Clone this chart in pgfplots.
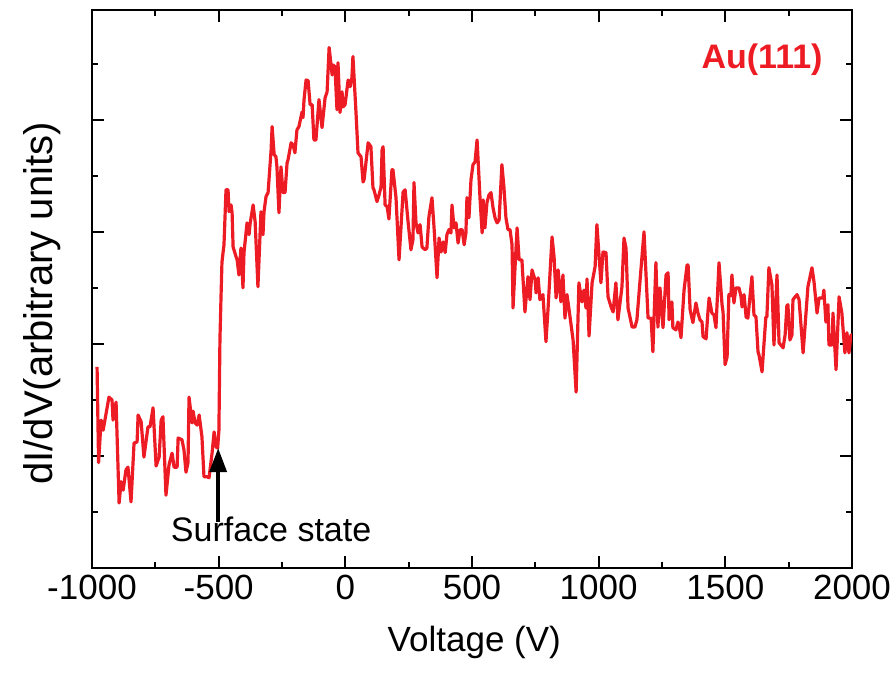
\documentclass[border=0pt]{standalone}
\usepackage{fontspec}
\setmainfont{Liberation Sans}
\usepackage{pgfplots}
\pgfplotsset{compat=1.18}
\usetikzlibrary{arrows.meta}
\definecolor{curvered}{HTML}{ED1C24}

\begin{document}
\begin{tikzpicture}
\path[use as bounding box] (-46pt,-53pt) rectangle (402pt,284pt);
\begin{axis}[
  scale only axis,
  width=380pt,
  height=279pt,
  xmin=-1000, xmax=2000,
  ymin=0, ymax=9.96,
  xtick={-1000,-500,0,500,1000,1500,2000},
  minor x tick num=1,
  ytick={2,4,6,8},
  minor ytick={1,3,5,7,9},
  yticklabels={},
  tick align=inside,
  major tick length=6pt,
  minor tick length=3pt,
  axis line style={line width=1pt},
  every tick/.style={line width=0.9pt, black},
  tick label style={font=\fontsize{17.5}{20}\selectfont},
  /pgf/number format/assume math mode=true,
  /pgf/number format/set thousands separator={},
  xlabel={Voltage (V)},
  ylabel={dI/dV(arbitrary units)},
  every axis x label/.style={at={(axis description cs:0.503,-0.134)}, anchor=center, font=\fontsize{17.5}{20}\selectfont},
  every axis y label/.style={at={(axis description cs:-0.066,0.474)}, anchor=center, rotate=90, font=\fontsize{20}{23}\selectfont},
]
  \addplot[color=curvered, line width=1.6pt, line join=round, no marks] coordinates {
    (-980,3.59) (-974,1.88) (-964,2.64) (-956,2.46) (-933,3.05) (-921,3.00) (-917,2.64) (-905,2.96)
    (-893,1.16) (-885,1.54) (-877,1.39) (-866,1.75) (-858,1.80) (-846,1.18) (-834,2.23) (-822,2.25)
    (-818,2.73) (-806,2.61) (-795,1.98) (-779,2.52) (-771,2.52) (-759,2.86) (-747,1.82) (-735,1.98)
    (-727,2.64) (-720,2.70) (-708,1.30) (-696,1.84) (-684,2.05) (-676,1.80) (-664,1.80) (-660,2.32)
    (-645,2.29) (-637,2.11) (-629,1.71) (-621,1.88) (-617,3.05) (-605,2.59) (-601,2.80) (-593,2.59)
    (-585,2.55) (-577,2.73) (-566,2.34) (-558,1.63) (-546,1.63) (-538,1.61) (-526,2.05) (-518,2.43)
    (-510,2.16) (-504,2.14) (-499,2.46) (-495,4.07) (-491,4.79) (-487,5.46) (-479,5.77) (-471,6.75)
    (-463,6.75) (-459,6.36) (-451,6.48) (-447,6.34) (-443,5.73) (-431,5.55) (-427,5.50) (-420,5.23)
    (-412,5.71) (-404,5.00) (-400,5.63) (-388,6.16) (-380,5.95) (-376,6.14) (-364,6.48) (-356,6.18)
    (-345,5.02) (-333,6.36) (-325,5.95) (-321,6.36) (-313,6.63) (-305,6.70) (-293,7.46) (-289,7.88)
    (-281,7.38) (-274,7.34) (-270,7.16) (-262,6.34) (-254,7.16) (-246,6.70) (-238,6.70) (-230,7.23)
    (-226,7.29) (-214,7.59) (-206,7.55) (-199,7.41) (-191,7.82) (-183,7.88) (-171,8.14) (-167,8.04)
    (-163,8.36) (-155,8.71) (-147,8.70) (-139,8.27) (-131,8.27) (-124,7.64) (-116,7.64) (-104,8.36)
    (-92,7.86) (-80,8.39) (-72,8.50) (-64,9.29) (-52,8.80) (-49,8.98) (-41,8.95) (-33,8.18)
    (-29,9.02) (-21,8.13) (-13,8.50) (-9,8.23) (-1,8.27) (11,8.71) (19,8.59) (26,8.75)
    (30,9.13) (42,8.14) (50,7.41) (62,7.34) (70,6.89) (74,6.93) (90,7.59) (101,7.52)
    (109,6.79) (113,6.75) (125,6.54) (133,6.66) (141,6.80) (145,7.46) (149,7.52) (157,6.48)
    (165,6.45) (172,6.23) (184,7.11) (188,7.11) (200,6.61) (212,5.50) (228,6.71) (236,6.75)
    (247,6.21) (259,5.68) (267,5.86) (271,6.88) (279,6.16) (287,5.98) (295,6.13) (303,5.73)
    (315,5.68) (322,5.71) (330,6.27) (342,6.61) (350,6.09) (362,5.18) (370,5.89) (378,5.64)
    (386,5.82) (394,5.63) (401,5.95) (409,6.04) (417,5.98) (421,6.48) (429,6.07) (437,6.16)
    (445,5.80) (453,6.04) (461,6.04) (469,5.77) (476,5.98) (480,6.61) (488,6.25) (496,6.93)
    (504,7.20) (512,7.25) (520,7.64) (524,7.29) (532,6.57) (540,5.98) (544,6.57) (551,6.07)
    (559,6.52) (567,6.66) (575,6.70) (583,6.43) (591,6.25) (599,6.16) (607,6.21) (618,7.20)
    (626,6.80) (634,6.25) (642,6.04) (650,6.04) (658,5.77) (662,4.64) (670,5.38) (678,6.07)
    (686,5.50) (697,5.50) (709,4.57) (721,5.20) (729,4.79) (737,5.32) (749,5.14) (753,4.91)
    (761,5.18) (768,4.79) (780,4.88) (792,4.04) (800,4.61) (816,5.91) (824,5.55) (832,4.82)
    (840,5.32) (851,4.75) (859,5.23) (867,4.46) (875,4.88) (887,4.48) (899,4.07) (911,3.14)
    (922,5.09) (934,4.75) (942,4.96) (950,4.64) (954,5.16) (962,4.14) (974,5.09) (986,5.38)
    (993,6.13) (1009,5.09) (1017,5.64) (1029,5.63) (1037,4.84) (1049,4.66) (1057,4.57) (1068,5.09)
    (1076,4.43) (1092,5.02) (1100,5.89) (1108,5.71) (1116,4.64) (1132,4.30) (1143,4.30) (1151,4.43)
    (1163,5.11) (1179,6.00) (1195,4.46) (1207,4.46) (1214,3.86) (1226,5.45) (1234,4.30) (1242,5.00)
    (1254,4.29) (1266,5.23) (1274,5.27) (1278,4.43) (1289,4.75) (1293,4.29) (1305,4.25) (1313,4.39)
    (1317,4.34) (1325,4.11) (1337,4.96) (1349,5.41) (1353,5.41) (1361,4.61) (1372,4.38) (1384,4.73)
    (1392,4.55) (1400,4.43) (1408,4.39) (1412,4.13) (1424,4.09) (1432,4.61) (1436,4.82) (1447,4.55)
    (1455,4.52) (1463,4.29) (1475,5.45) (1487,4.70) (1491,4.57) (1499,3.63) (1507,3.77) (1514,4.88)
    (1522,4.86) (1526,5.23) (1534,4.73) (1542,5.00) (1554,5.00) (1562,4.84) (1566,4.66) (1574,4.88)
    (1582,4.48) (1589,4.46) (1605,5.20) (1613,4.52) (1621,4.48) (1629,3.86) (1633,3.80) (1645,3.50)
    (1649,3.77) (1660,4.48) (1664,4.48) (1672,5.36) (1684,5.05) (1692,3.98) (1704,5.23) (1712,4.02)
    (1728,3.93) (1736,4.16) (1743,4.68) (1747,4.70) (1755,4.07) (1763,4.16) (1767,4.79) (1783,4.88)
    (1791,4.79) (1807,3.84) (1826,5.02) (1842,5.36) (1850,5.11) (1862,4.55) (1870,4.82) (1885,4.82)
    (1889,4.96) (1897,4.39) (1905,4.70) (1909,3.98) (1921,3.98) (1925,4.55) (1937,3.54) (1949,4.84)
    (1960,4.55) (1972,3.84) (1980,4.20) (1988,3.84) (1996,4.16) (2000,4.16)
  };
  \draw[-{Triangle[width=8.5pt,length=12pt]}, line width=1.7pt, black] (axis cs:-502,0.82) -- (axis cs:-502,2.14);
  \node[anchor=base, font=\fontsize{17}{20}\selectfont, inner sep=0pt] at (axis cs:-293,0.47) {Surface state};
  \node[anchor=base, font=\bfseries\fontsize{17}{20}\selectfont, text=curvered, inner sep=0pt] at (axis cs:1645,8.91) {Au(111)};
\end{axis}
\end{tikzpicture}
\end{document}
